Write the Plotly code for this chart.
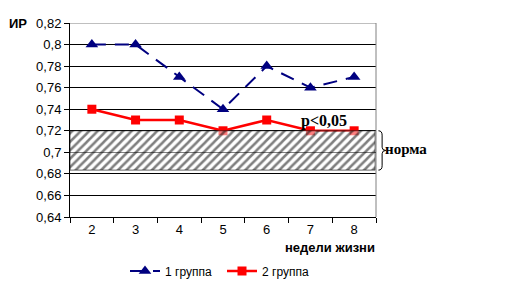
import plotly.graph_objects as go

weeks = [2, 3, 4, 5, 6, 7, 8]
group1 = [0.80, 0.80, 0.77, 0.74, 0.78, 0.76, 0.77]
group2 = [0.74, 0.73, 0.73, 0.72, 0.73, 0.72, 0.72]
norm_low, norm_high = 0.6835, 0.72
yticks = [0.64, 0.66, 0.68, 0.70, 0.72, 0.74, 0.76, 0.78, 0.80, 0.82]
ytick_text = ["0,64", "0,66", "0,68", "0,7", "0,72", "0,74", "0,76", "0,78", "0,8", "0,82"]
names = ["1 группа", "2 группа"]

fig = go.Figure()
fig.add_trace(go.Scatter(x=weeks, y=group1, name=names[0], mode="lines+markers", legend="legend",
                         line=dict(color="#000080", width=2, dash="14px,9px"),
                         marker=dict(symbol="triangle-up", size=11, color="#000080")))
fig.add_trace(go.Scatter(x=weeks, y=group2, name=names[1], mode="lines+markers", legend="legend2",
                         line=dict(color="#ff0000", width=2.5),
                         marker=dict(symbol="square", size=9, color="#ff0000")))
xl, xr = weeks[0] - 0.5, weeks[-1] + 0.48
fig.add_trace(go.Scatter(x=[xl, xr, xr, xl, xl], y=[norm_low, norm_low, norm_high, norm_high, norm_low],
                         mode="lines", fill="toself", showlegend=False, hoverinfo="skip",
                         line=dict(color="rgba(0,0,0,0.6)", width=1),
                         fillcolor="rgba(255,255,255,0.5)",
                         fillpattern=dict(shape="/", fgcolor="black", bgcolor="rgba(255,255,255,0.5)",
                                          size=6, solidity=0.42)))

leg_common = dict(orientation="h", xref="container", yref="container", xanchor="left",
                  yanchor="middle", font=dict(size=12), itemwidth=30, bgcolor="rgba(0,0,0,0)")
fig.update_layout(
    width=527, height=290, margin=dict(l=70, r=151, t=23, b=73),
    paper_bgcolor="white", plot_bgcolor="white",
    font=dict(family="Liberation Sans, Arial", size=13, color="black"),
    legend=dict(x=125 / 527, y=1 - 271 / 290, **leg_common),
    legend2=dict(x=222 / 527, y=1 - 271 / 290, **leg_common),
    xaxis=dict(range=[weeks[0] - 0.5, weeks[-1] + 0.5], tickvals=weeks, ticktext=[str(w) for w in weeks],
               showgrid=False, zeroline=False, showline=True, linecolor="black", linewidth=1,
               ticks="", tickfont=dict(size=13),
               minor=dict(tickvals=[w - 0.5 for w in weeks] + [weeks[-1] + 0.5], ticks="outside",
                          ticklen=5, tickcolor="black", showgrid=False)),
    yaxis=dict(range=[0.64, 0.82], tickvals=yticks, ticktext=ytick_text,
               showgrid=True, gridcolor="black", gridwidth=1, zeroline=False,
               showline=True, linecolor="black", linewidth=1, ticks="outside", ticklen=5,
               tickcolor="black", tickfont=dict(size=13)),
    showlegend=True,
)
# right border and top line in gray
fig.add_shape(type="line", xref="paper", yref="paper", x0=1, x1=1, y0=0, y1=1,
              line=dict(color="#808080", width=1))
fig.add_shape(type="line", xref="paper", yref="y", x0=0, x1=1, y0=0.82, y1=0.82,
              line=dict(color="#808080", width=1))
# brace
bx = 1.008
bw = 0.012
ym = (norm_low + norm_high) / 2
path = (f"M {bx},{norm_high} Q {bx+bw},{norm_high} {bx+bw},{norm_high-0.004} "
        f"L {bx+bw},{ym+0.003} Q {bx+bw},{ym} {bx+2*bw},{ym} "
        f"Q {bx+bw},{ym} {bx+bw},{ym-0.003} L {bx+bw},{norm_low+0.004} "
        f"Q {bx+bw},{norm_low} {bx},{norm_low}")
fig.add_shape(type="path", xref="paper", yref="y", path=path, line=dict(color="black", width=1))

fig.add_annotation(text="<b>ИР</b>", xref="paper", yref="paper", x=-0.135, y=1.0,
                   xanchor="right", yanchor="middle", showarrow=False, font=dict(size=13))
fig.add_annotation(text="<b>недели жизни</b>", xref="paper", yref="paper", x=1.003, y=-0.155,
                   xanchor="right", yanchor="middle", showarrow=False, font=dict(size=13))
fig.add_annotation(text="<b>p<0,05</b>", xref="x", yref="y", x=7.3, y=0.7295,
                   xanchor="center", yanchor="middle", showarrow=False,
                   font=dict(family="Liberation Serif, Times New Roman", size=16))
fig.add_annotation(text="<b>норма</b>", xref="paper", yref="y", x=1.022, y=ym + 0.001,
                   xanchor="left", yanchor="middle", showarrow=False,
                   font=dict(family="Liberation Serif, Times New Roman", size=15))

fig.write_html("out.html")
